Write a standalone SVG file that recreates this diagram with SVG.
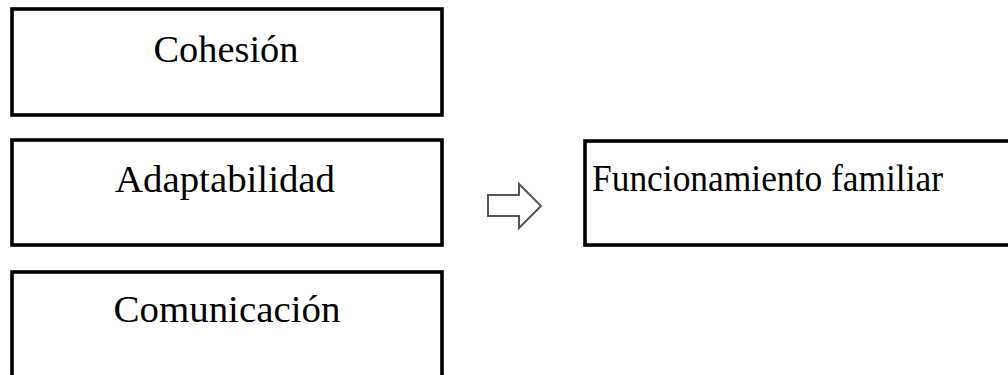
<svg xmlns="http://www.w3.org/2000/svg" width="1008" height="375" viewBox="0 0 1008 375">
<style>
.box{fill:#fff;stroke:#000;stroke-width:3.6}
.lbl{font-family:"Liberation Serif","Times New Roman",serif;font-size:38px;fill:#000}
.arrow{fill:#fff;stroke:#555;stroke-width:2}
</style>
<rect width="1008" height="375" fill="#fff"/>
<g id="cohesion">
<rect class="box" x="12" y="9" width="430" height="106"/>
<text class="lbl" x="226" y="62" text-anchor="middle" textLength="145" lengthAdjust="spacingAndGlyphs">Cohesión</text>
</g>
<g id="adaptabilidad">
<rect class="box" x="12" y="140" width="430" height="105"/>
<text class="lbl" x="225" y="192" text-anchor="middle" textLength="220" lengthAdjust="spacingAndGlyphs">Adaptabilidad</text>
</g>
<g id="comunicacion">
<rect class="box" x="12" y="272" width="430" height="120"/>
<text class="lbl" x="227" y="322" text-anchor="middle" textLength="227" lengthAdjust="spacingAndGlyphs">Comunicación</text>
</g>
<g id="funcionamiento">
<rect class="box" x="585" y="141" width="440" height="104"/>
<text class="lbl" x="592" y="191" textLength="351" lengthAdjust="spacingAndGlyphs">Funcionamiento familiar</text>
</g>
<g id="connectors">
<path class="arrow" d="M488,195 L519,195 L519,184 L541,206 L519,228 L519,216 L488,216 Z"/>
</g>
</svg>
